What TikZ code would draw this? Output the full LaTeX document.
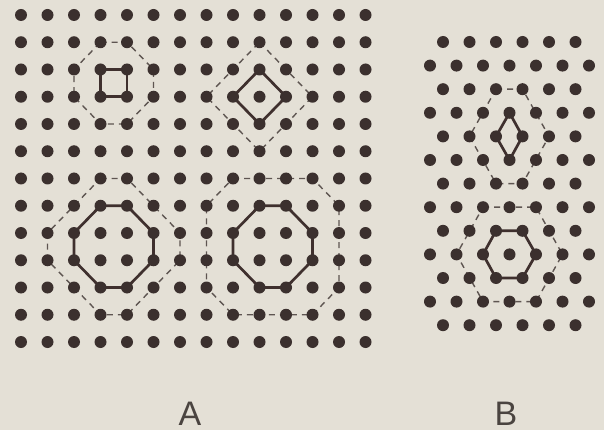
\documentclass[tikz,border=0pt]{standalone}
\usepackage{fontspec}
\setsansfont{Liberation Sans}
\definecolor{bgc}{HTML}{E4E0D6}
\definecolor{dotc}{HTML}{3B302E}
\definecolor{linec}{HTML}{3F302E}
\definecolor{dashc}{HTML}{5E5551}
\definecolor{labc}{HTML}{4A4440}
\begin{document}
\begin{tikzpicture}[x=1pt,y=-1pt,
  dot/.style={circle,fill=dotc,inner sep=0pt,minimum size=12pt},
  solidln/.style={line width=2.7pt,draw=linec,line join=round},
  dashln/.style={line width=1.4pt,draw=dashc,dash pattern=on 6pt off 5pt},
  lbl/.style={font=\sffamily\fontsize{34}{34}\selectfont,text=labc,inner sep=0pt}]
\fill[bgc] (0,0) rectangle (604,430);
\useasboundingbox (0,0) rectangle (604,430);
% lattice A (square)
\foreach \i in {0,...,13} \foreach \j in {0,...,12}
  \coordinate (A-\i-\j) at ({21+26.5*\i},{15+27.25*\j});
% lattice B (triangular)
\foreach \k in {0,2,...,12} \foreach \i in {0,...,5}
  \coordinate (B-\i-\k) at ({443+26.5*\i},{42+23.6*\k});
\foreach \k in {1,3,...,11} \foreach \i in {0,...,6}
  \coordinate (B-\i-\k) at ({430+26.5*\i},{42+23.6*\k});
% dashed outlines
\draw[dashln] (A-3-1) -- (A-4-1) -- (A-5-2) -- (A-5-3) -- (A-4-4) -- (A-3-4) -- (A-2-3) -- (A-2-2) -- cycle;
\draw[dashln] (A-9-1) -- (A-11-3) -- (A-9-5) -- (A-7-3) -- cycle;
\draw[dashln] (A-3-6) -- (A-4-6) -- (A-6-8) -- (A-6-9) -- (A-4-11) -- (A-3-11) -- (A-1-9) -- (A-1-8) -- cycle;
\draw[dashln] (A-8-6) -- (A-11-6) -- (A-12-7) -- (A-12-10) -- (A-11-11) -- (A-8-11) -- (A-7-10) -- (A-7-7) -- cycle;
\draw[dashln] (B-2-2) -- (B-3-2) -- (B-4-4) -- (B-3-6) -- (B-2-6) -- (B-1-4) -- cycle;
\draw[dashln] (B-2-7) -- (B-4-7) -- (B-5-9) -- (B-4-11) -- (B-2-11) -- (B-1-9) -- cycle;
% solid figures
\draw[solidln] (A-3-2) -- (A-4-2) -- (A-4-3) -- (A-3-3) -- cycle;
\draw[solidln] (A-9-2) -- (A-10-3) -- (A-9-4) -- (A-8-3) -- cycle;
\draw[solidln] (A-3-7) -- (A-4-7) -- (A-5-8) -- (A-5-9) -- (A-4-10) -- (A-3-10) -- (A-2-9) -- (A-2-8) -- cycle;
\draw[solidln] (A-9-7) -- (A-10-7) -- (A-11-8) -- (A-11-9) -- (A-10-10) -- (A-9-10) -- (A-8-9) -- (A-8-8) -- cycle;
\draw[solidln] (B-3-3) -- (B-3-4) -- (B-3-5) -- (B-2-4) -- cycle;
\draw[solidln] (B-2-8) -- (B-3-8) -- (B-4-9) -- (B-3-10) -- (B-2-10) -- (B-2-9) -- cycle;
% dots
\foreach \i in {0,...,13} \foreach \j in {0,...,12}
  \node[dot] (dA-\i-\j) at (A-\i-\j) {};
\foreach \k in {0,2,...,12} \foreach \i in {0,...,5}
  \node[dot] (dB-\i-\k) at (B-\i-\k) {};
\foreach \k in {1,3,...,11} \foreach \i in {0,...,6}
  \node[dot] (dB-\i-\k) at (B-\i-\k) {};
% labels
\node[lbl] (labA) at (190,413.5) {A};
\node[lbl] (labB) at (506,413.5) {B};
\end{tikzpicture}
\end{document}
